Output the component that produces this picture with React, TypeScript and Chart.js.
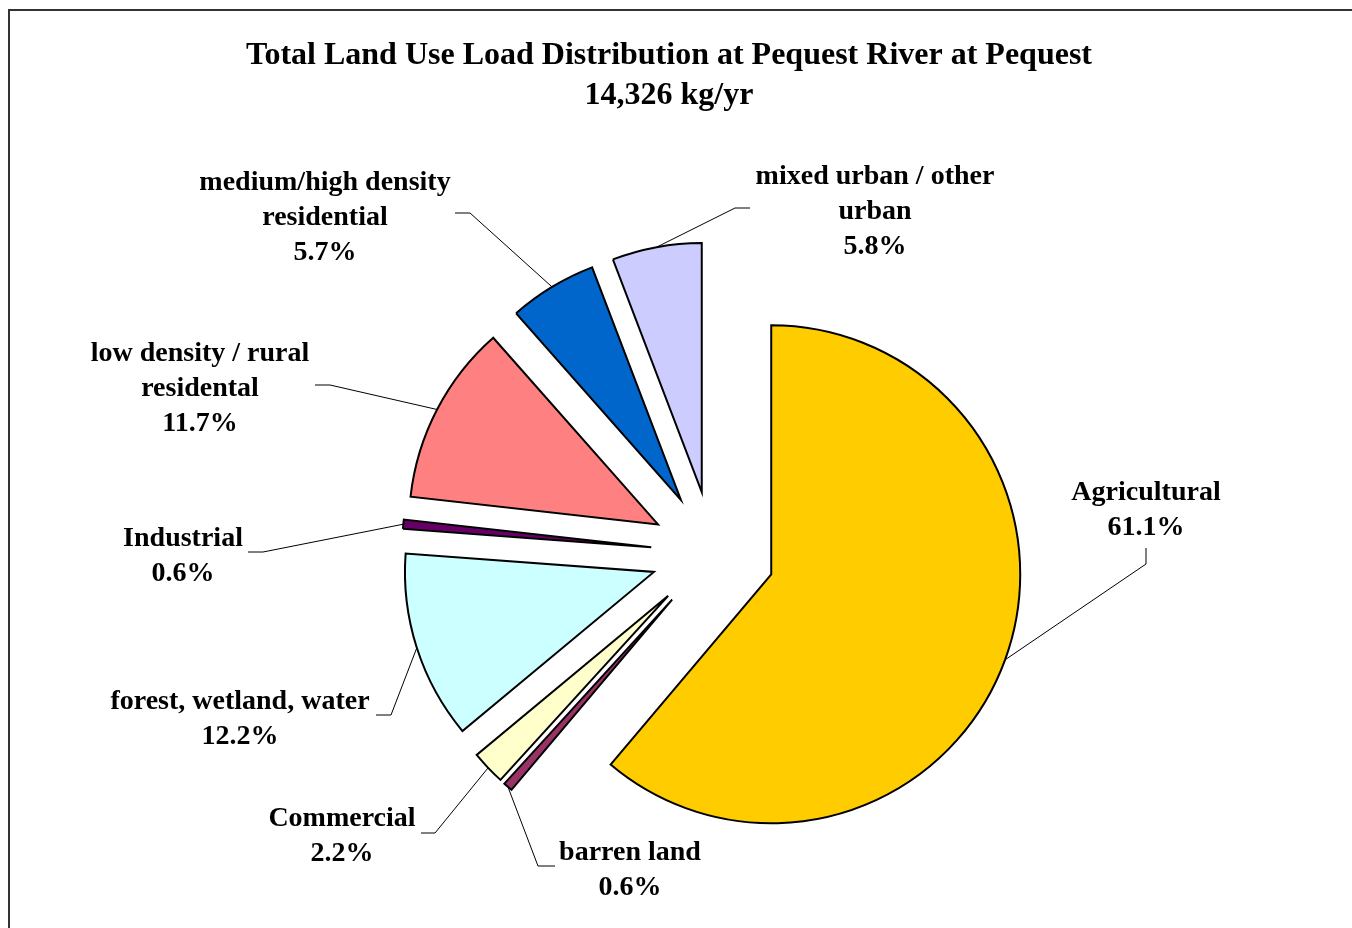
import { useEffect, useRef } from "react";
import { Chart, registerables } from "chart.js";

Chart.register(...registerables);

const TITLE_LINES = ["Total Land Use Load Distribution at Pequest River at Pequest", "14,326 kg/yr"];
const CATEGORIES = [
  "Agricultural",
  "barren land",
  "Commercial",
  "forest, wetland, water",
  "Industrial",
  "low density / rural\nresidental",
  "medium/high density\nresidential",
  "mixed urban / other\nurban",
];
const SHARES = [61.1, 0.6, 2.2, 12.2, 0.6, 11.7, 5.7, 5.8];
const COLORS = ["#FFCC00", "#993366", "#FFFFCC", "#CCFFFF", "#660066", "#FF8080", "#0066CC", "#CCCCFF"];

// layout only (label centres and leader-line elbows)
const EXPLODE = 62;
const LABEL_LAYOUT = [
  { cx: 1146, cy: 493, path: [[1146, 548], [1146, 564]] },
  { cx: 630, cy: 853, path: [[555, 866], [538, 866]] },
  { cx: 342, cy: 819, path: [[421, 833], [435, 833]] },
  { cx: 240, cy: 702, path: [[376, 715], [391, 715]] },
  { cx: 183, cy: 539, path: [[248, 552], [263, 552]] },
  { cx: 200, cy: 354, path: [[315, 385], [330, 385]] },
  { cx: 325, cy: 183, path: [[455, 213], [470, 213]] },
  { cx: 875, cy: 177, path: [[750, 208], [735, 208]] },
];

const FONT = '"Liberation Serif", "Times New Roman", serif';
const LINE_H = 35;

const explodePlugin = {
  id: "explodePie",
  beforeDatasetsDraw(chart: any) {
    const ctx = chart.ctx;
    const meta = chart.getDatasetMeta(0);
    meta.data.forEach((arc: any) => {
      const mid = (arc.startAngle + arc.endAngle) / 2;
      ctx.save();
      ctx.translate(Math.cos(mid) * EXPLODE, Math.sin(mid) * EXPLODE);
      arc.draw(ctx);
      ctx.restore();
    });
    return false;
  },
  afterDraw(chart: any) {
    const ctx = chart.ctx;
    const meta = chart.getDatasetMeta(0);
    ctx.save();
    // title
    ctx.fillStyle = "#000";
    ctx.textAlign = "center";
    ctx.textBaseline = "middle";
    ctx.font = `bold 32px ${FONT}`;
    ctx.fillText(TITLE_LINES[0], 669, 56);
    ctx.fillText(TITLE_LINES[1], 669, 96);

    // labels & leaders
    meta.data.forEach((arc: any, i: number) => {
      const lay = LABEL_LAYOUT[i];
      const mid = (arc.startAngle + arc.endAngle) / 2;
      const r = EXPLODE + arc.outerRadius;
      const ax = arc.x + Math.cos(mid) * r;
      const ay = arc.y + Math.sin(mid) * r;
      ctx.strokeStyle = "#000";
      ctx.lineWidth = 1;
      ctx.beginPath();
      ctx.moveTo(lay.path[0][0], lay.path[0][1]);
      ctx.lineTo(lay.path[1][0], lay.path[1][1]);
      ctx.lineTo(ax, ay);
      ctx.stroke();

      const lines = CATEGORIES[i].split("\n").concat([SHARES[i].toFixed(1) + "%"]);
      ctx.font = `bold 28px ${FONT}`;
      ctx.fillStyle = "#000";
      lines.forEach((t, k) => ctx.fillText(t, lay.cx, lay.cy + k * LINE_H));
    });
    ctx.restore();
  },
};

export default function App() {
  const ref = useRef<HTMLCanvasElement | null>(null);
  useEffect(() => {
    if (!ref.current) return;
    const chart = new Chart(ref.current, {
      type: "pie",
      data: {
        labels: CATEGORIES,
        datasets: [
          {
            data: SHARES,
            backgroundColor: COLORS,
            borderColor: "#000",
            borderWidth: 2,
            borderJoinStyle: "miter",
            radius: 249,
          } as any,
        ],
      },
      options: {
        animation: false,
        responsive: false,
        events: [],
        layout: { padding: { left: 313, right: 239, top: 213, bottom: 35 } },
        plugins: { legend: { display: false }, tooltip: { enabled: false }, title: { display: false } },
      },
      plugins: [explodePlugin],
    });
    return () => chart.destroy();
  }, []);
  return (
    <div style={{ position: "fixed", left: 0, top: 0, width: 1352, height: 928, overflow: "hidden", background: "#fff" }}>
      <div
        style={{
          position: "absolute",
          left: 8,
          top: 9,
          width: 1500,
          height: 1100,
          borderTop: "2px solid #333",
          borderLeft: "2px solid #333",
        }}
      />
      <canvas ref={ref} width={1352} height={928} style={{ position: "absolute", left: 0, top: 0, width: 1352, height: 928 }} />
    </div>
  );
}
